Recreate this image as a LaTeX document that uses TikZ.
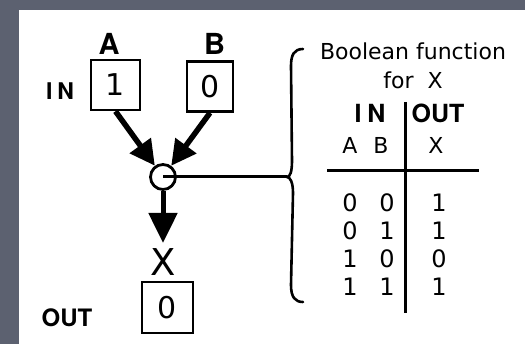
\documentclass[tikz,border=0pt]{standalone}
\usepackage{fontspec}
\setmainfont{DejaVu Sans}
\newfontfamily\heros{TeX Gyre Heros}
\usetikzlibrary{arrows.meta}
\definecolor{slate}{RGB}{92,97,112}

\begin{document}
\begin{tikzpicture}
[x=1pt,y=-1pt,
  valbox/.style={draw,line width=2.6pt,minimum width=49pt,minimum height=50pt,
    inner sep=0pt,font=\fontsize{30}{30}\selectfont},%
  gatedot/.style={circle,draw,line width=2.8pt,minimum size=25pt,inner sep=0pt},
  boldlabel/.style={font=\heros\bfseries\fontsize{#1}{#1}\selectfont,inner sep=0pt},
  plainlabel/.style={font=\fontsize{#1}{#1}\selectfont,inner sep=0pt},
  feed/.style={line width=5.5pt,-{Triangle[length=25pt,width=25pt]}},
  drop/.style={line width=5pt,-{Triangle[length=30pt,width=28pt]}},
  rule/.style={line width=3pt}]
%% frame
\fill[slate] (0,0) rectangle (525,344);
\fill[white] (19,10) rectangle (525,344);
\useasboundingbox (0,0) rectangle (525,344);
%% inputs, gate and output
\node[boldlabel=29] (aname) at (109,44) {A};
\node[boldlabel=29] (bname) at (214.5,44) {B};
\node[valbox] (a) at (115.5,85) {1};
\node[valbox,minimum width=46pt] (b) at (210,86.5) {0};
\node[boldlabel=23] (inlabel) at (60,91) {I\kern5pt N};
\node[gatedot] (gate) at (163,177) {};
\coordinate (xtip) at (163,243);
\node[plainlabel=37] (xname) at (163.5,262) {X};
\node[valbox,minimum width=51pt,minimum height=51pt] (x) at (167.5,307.5) {0};
\node[boldlabel=24] (outlabel) at (67,318) {OUT};
%% connectors
\draw[feed] (a.south) -- (gate);
\draw[feed] (b.south) -- (gate);
\draw[drop] (gate) -- (xtip);
\coordinate (cusp) at (287,177);
\draw[rule] (gate.center) -- (cusp);
%% brace
\draw[line width=2.6pt,line cap=round] (303,49) .. controls (294,49) and (291,55) .. (291,66)
  -- (292,161) .. controls (292,172) and (290,177) .. (287,177)
  .. controls (290,177) and (293,182) .. (293,193)
  -- (291,285) .. controls (291,297) and (295,302) .. (303,302);
%% truth table
\node[plainlabel=22] (title) at (413,51) {Boolean function};
\node[plainlabel=22] (titlex) at (413,80) {for\ \ X};
\node[boldlabel=25] (inhead) at (370,113) {I\kern6pt N};
\node[boldlabel=25] (outhead) at (438,113) {OUT};
\node[plainlabel=22] (colA) at (350,145) {A};
\node[plainlabel=22] (colB) at (381,145) {B};
\node[plainlabel=22] (colX) at (436,145) {X};
\draw[rule] (405,102) -- (405,313);
\draw[rule] (327,170.5) -- (479,170.5);
\foreach \a/\b/\x [count=\r] in {0/0/1, 0/1/1, 1/0/0, 1/1/1}
{
  \node[plainlabel=24] (a\r) at (350,175+28*\r) {\a};
  \node[plainlabel=24] (b\r) at (387,175+28*\r) {\b};
  \node[plainlabel=24] (x\r) at (439,175+28*\r) {\x};
}
\end{tikzpicture}
\end{document}
